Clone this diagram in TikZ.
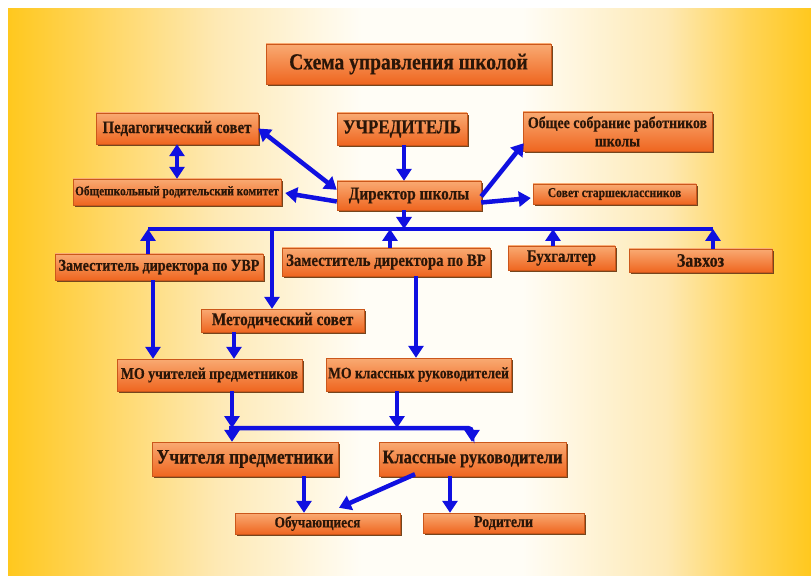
\documentclass[tikz,border=0pt]{standalone}
\usepackage{fontspec}
\setmainfont{Liberation Serif}[FakeStretch=0.85, BoldFeatures={FakeBold=0.4}]
\usetikzlibrary{arrows.meta,shadows,calc}
\definecolor{ylw}{HTML}{FFC81E}
\definecolor{ylw2}{HTML}{FFD458}
\definecolor{ylw3}{HTML}{FEE9B4}
\definecolor{bgw}{HTML}{FFFDF6}
\definecolor{boxtop}{HTML}{F9AA72}
\definecolor{boxbot}{HTML}{EF6620}
\definecolor{boxshd}{HTML}{74461E}
\definecolor{arrc}{HTML}{1010E0}
\definecolor{txtc}{HTML}{2A1608}
\pgfdeclarehorizontalshading{bgshade}{100bp}{color(0bp)=(ylw); color(25bp)=(ylw); color(30bp)=(ylw2); color(38bp)=(ylw3); color(47bp)=(bgw); color(57bp)=(bgw); color(66bp)=(ylw3); color(71bp)=(ylw2); color(75bp)=(ylw); color(100bp)=(ylw)}
\newcommand{\fsz}[1]{\fontsize{#1}{#1}\selectfont}
\tikzset{
  box/.style={rectangle, inner sep=0pt, align=center, text=txtc, font=\bfseries,
    top color=boxtop, bottom color=boxbot, draw=boxbot!85!black, line width=0.4pt,
    general shadow={shadow xshift=2pt, shadow yshift=-2pt, fill=boxshd}},
  ln/.style={draw=arrc, line width=4.5pt},
  arr/.style={ln, -{Triangle[length=12pt,width=15pt]}},
  darr/.style={ln, {Triangle[length=12pt,width=15pt]}-{Triangle[length=12pt,width=15pt]}},
}
\begin{document}
\begin{tikzpicture}[x=1pt,y=-1pt]
\useasboundingbox (0,0) rectangle (811,577);
\fill[white] (0,0) rectangle (811,577);
\shade[shading=bgshade] (8,9) rectangle (811,575);

% boxes
\node[box, minimum width=285, minimum height=40, font=\bfseries\fsz{23}] (title) at (408.5,64) {Схема управления школой};
\node[box, minimum width=130, minimum height=32, font=\bfseries\fsz{20}] (uch) at (402,129) {УЧРЕДИТЕЛЬ};
\node[box, minimum width=144, minimum height=29, font=\bfseries\fsz{18}] (dir) at (409,195.5) {Директор школы};
\node[box, minimum width=162, minimum height=31, font=\bfseries\fsz{17.5}] (ped) at (177,128.5) {Педагогический совет};
\node[box, minimum width=208, minimum height=26, font=\bfseries\fsz{13.3}] (obsh) at (177,192) {Общешкольный родительский комитет};
\node[box, minimum width=189, minimum height=39, font=\bfseries\fsz{16.4}] (obs) at (617.5,131.5) {Общее собрание работников\\[2pt]школы};
\node[box, minimum width=163, minimum height=20, font=\bfseries\fsz{13.7}] (sov) at (614.5,194) {Совет старшеклассников};
\node[box, minimum width=107, minimum height=24, font=\bfseries\fsz{17.5}] (buh) at (561.5,258) {Бухгалтер};
\node[box, minimum width=143, minimum height=23, font=\bfseries\fsz{19}] (zav) at (700.5,260.5) {Завхоз};
\node[box, minimum width=208, minimum height=26, font=\bfseries\fsz{16.6}] (zuvr) at (159,267) {Заместитель директора по УВР};
\node[box, minimum width=208, minimum height=28, font=\bfseries\fsz{17.4}] (zvr) at (386,262) {Заместитель директора по ВР};
\node[box, minimum width=163, minimum height=23, font=\bfseries\fsz{18}] (met) at (282.5,320.5) {Методический совет};
\node[box, minimum width=185, minimum height=32, font=\bfseries\fsz{16.3}] (mou) at (209.5,375) {МО учителей предметников};
\node[box, minimum width=185, minimum height=33, font=\bfseries\fsz{16}] (mok) at (418.5,374.5) {МО классных руководителей};
\node[box, minimum width=186, minimum height=34, font=\bfseries\fsz{20.5}] (uchp) at (245,459) {Учителя предметники};
\node[box, minimum width=187, minimum height=34, font=\bfseries\fsz{19.3}] (klr) at (472.5,459) {Классные руководители};
\node[box, minimum width=165, minimum height=21, font=\bfseries\fsz{15.7}] (obuch) at (317.5,523.5) {Обучающиеся};
\node[box, minimum width=161, minimum height=20, font=\bfseries\fsz{16.5}] (rod) at (503.5,523) {Родители};

% bus coordinates
\coordinate (bus1) at (148,229);
\coordinate (bus2) at (713,229);
\coordinate (busD) at (404,229);
\coordinate (busV) at (390,229);
\coordinate (busB) at (553,229);
\coordinate (busM) at (272,229);
\coordinate (xa) at (153,0);
\coordinate (xm) at (234,0);
\coordinate (xv) at (416,0);
\coordinate (lb1) at (232,428);
\coordinate (lb0) at (229,428);
\coordinate (lb2) at (472,428);
\coordinate (lbk) at (397,428);
\coordinate (xo) at (304,0);
\coordinate (xr) at (450,0);

% top connectors
\draw[arr] (uch.south -| busD) -- (busD |- dir.north);
\draw[darr] (ped.east) -- ($(dir.north west)+(0,9)$);
\draw[darr] (ped.south) -- (obsh.north);
\draw[arr] ($(dir.west)+(0,6)$) -- ($(obsh.east)+(4,1)$);
\draw[arr] ($(dir.east)+(0,1)$) -- ($(obs.south west)+(1,-8)$);
\draw[arr] ($(dir.east)+(0,7)$) -- ($(sov.west)+(-2,4)$);

% main bus
\draw[ln] (bus1) -- (bus2);
\draw[arr] (busD |- dir.south) -- (busD);
\draw[arr] (bus1 |- zuvr.north) -- (bus1);
\draw[arr] (busV |- zvr.north) -- (busV);
\draw[arr] (busB |- buh.north) -- (busB);
\draw[arr] (bus2 |- zav.north) -- (bus2);
\draw[arr] (busM) -- (busM |- met.north);

% middle
\draw[arr] (xa |- zuvr.south) -- (xa |- mou.north);
\draw[arr] (xm |- met.south) -- (xm |- mou.north);
\draw[arr] (xv |- zvr.south) -- (xv |- mok.north);

% lower bus
\draw[arr] (lb1 |- mou.south) -- (lb1);
\draw[arr] (lbk |- mok.south) -- (lbk);
\draw[arr, rounded corners=4pt] (lb0) -- (lb2) -- (lb2 |- klr.north);
\draw[arr] (lb1) -- (lb1 |- uchp.north);

% bottom
\draw[arr] (xo |- uchp.south) -- (xo |- obuch.north);
\draw[arr] ($(klr.south)+(-57.5,-2)$) -- ($(obuch.north)+(21.5,-5)$);
\draw[arr] (xr |- klr.south) -- (xr |- rod.north);
\end{tikzpicture}
\end{document}
